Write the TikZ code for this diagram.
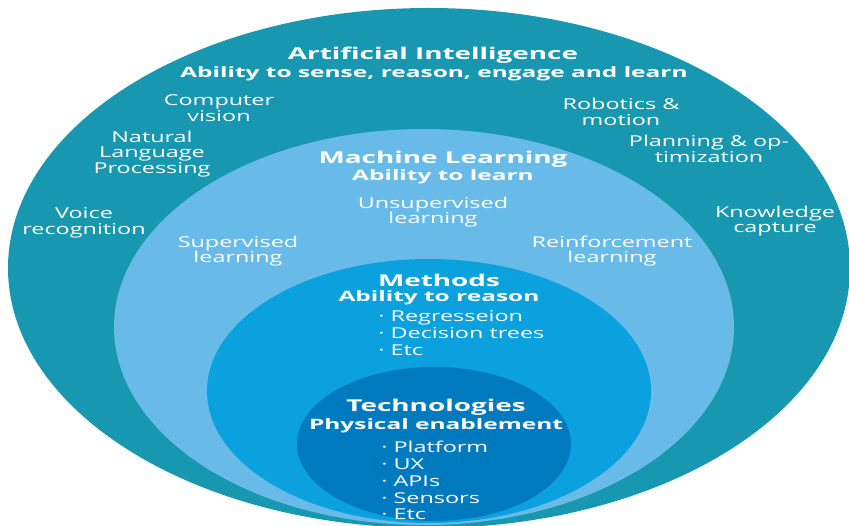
\documentclass[tikz,border=0pt]{standalone}
\usepackage{fontspec}
\setmainfont{Open Sans}
\usepackage{tikz}
\usetikzlibrary{positioning}

\definecolor{aiteal}{RGB}{24,152,176}
\definecolor{mlblue}{RGB}{104,187,232}
\definecolor{methblue}{RGB}{11,160,222}
\definecolor{techblue}{RGB}{0,122,190}

\begin{document}
\begin{tikzpicture}[x=1pt, y=-1pt,
    layer/.style={draw=none},
    title/.style={text=white, font=\bfseries\fontsize{16.3}{16}\selectfont, inner sep=0pt, xscale=1.71, transform shape},
    subtitle/.style={text=white, font=\bfseries\fontsize{14.3}{15}\selectfont, inner sep=0pt, xscale=1.71, transform shape},
    topic/.style={text=white, font=\fontsize{15}{15.5}\selectfont, align=center, inner sep=0pt, xscale=1.56, transform shape},
    items/.style={text=white, font=\fontsize{15}{17.3}\selectfont, align=left, inner sep=0pt, xscale=1.56, transform shape}]
    \useasboundingbox (0,0) rectangle (849,526);

    % Layers {ai, ml, methods, tech}
    \fill [layer, aiteal]   (429,268) ellipse [x radius=421, y radius=260];
    \fill [layer, mlblue]   (424,327) ellipse [x radius=310, y radius=198];
    \fill [layer, methblue] (429,391) ellipse [x radius=222, y radius=132];
    \fill [layer, techblue] (434,444) ellipse [x radius=137, y radius=77];

    % Artificial Intelligence
    \node [title]    (ait) at (433,55) {Artificial Intelligence};
    \node [subtitle] (ais) at (434,74) {Ability to sense, reason, engage and learn};
    \node [topic] (cv)  at (219,108) {Computer\\vision};
    \node [topic] (rm)  at (621,112) {Robotics \&\\motion};
    \node [topic] (nlp) at (152,154) {Natural\\Language\\Processing};
    \node [topic] (po)  at (709,149) {Planning \& op-\\timization};
    \node [topic] (vr)  at (84,223)  {Voice\\recognition};
    \node [topic] (kc)  at (775,221) {Knowledge\\capture};

    % Machine Learning
    \node [title]    (mlt) at (443,159) {Machine Learning};
    \node [subtitle] (mls) at (443,177) {Ability to learn};
    \node [topic] (ul) at (433,212) {Unsupervised\\learning};
    \node [topic] (sl) at (238,251) {Supervised\\learning};
    \node [topic] (rl) at (612,251) {Reinforcement\\learning};

    % Methods
    \node [title]    (met) at (439,280) {Methods};
    \node [subtitle] (mes) at (439,298) {Ability to reason};
    \node [items, anchor=north west] (mei) at (378,310)
        {· Regresseion\\· Decision trees\\· Etc};

    % Technologies
    \node [title]    (tet) at (436,407) {Technologies};
    \node [subtitle] (tes) at (436,426) {Physical enablement};
    \node [items, font=\fontsize{15}{16.8}\selectfont, anchor=north west] (tei) at (381,441)
        {· Platform\\· UX\\· APIs\\· Sensors\\· Etc};

\end{tikzpicture}
\end{document}
